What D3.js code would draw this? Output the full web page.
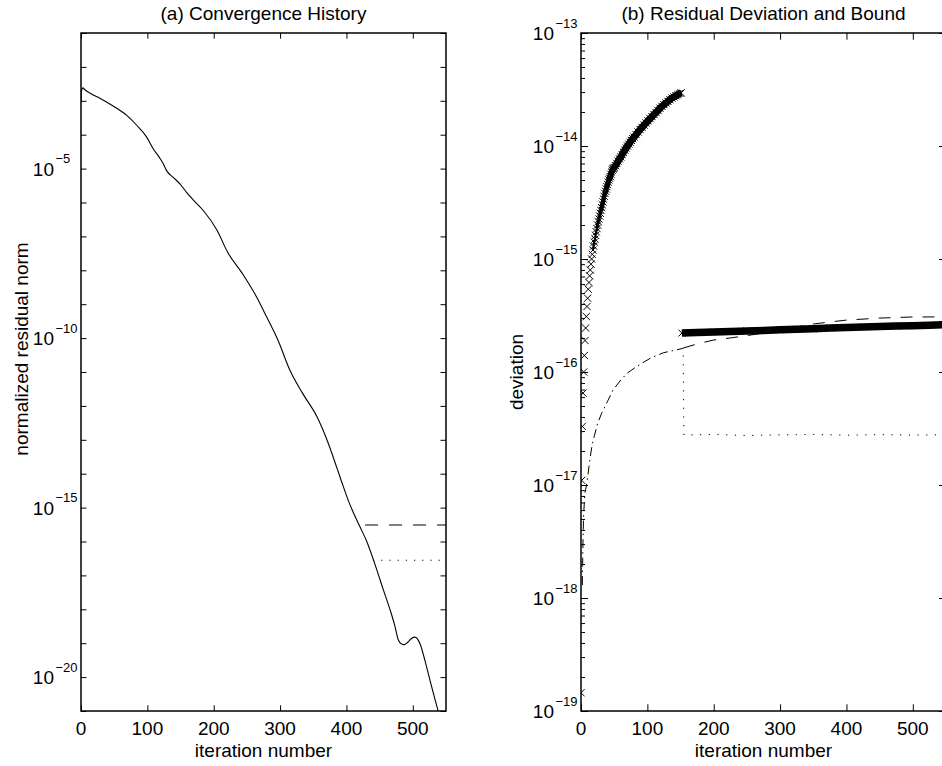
<!DOCTYPE html>
<html>
<head>
<meta charset="utf-8">
<script src="https://cdn.jsdelivr.net/npm/d3@7"></script>
<style>
  body { margin: 0; background: #fff; }
  text { font-family: "Liberation Sans", Arial, Helvetica, sans-serif; fill: #000; }
</style>
</head>
<body>
<svg id="chart" width="942" height="766"></svg>
<script>
// ---- data ----
var xTicks = [0, 100, 200, 300, 400, 500];

// (a) convergence history
var residIter = [0, 1, 3, 5, 15, 29, 49, 69, 84, 99, 109, 118, 124, 129, 139, 149, 159, 169, 184, 205,
  221, 243, 265, 280, 297, 315, 334, 356, 371, 386, 393, 403, 410, 420, 430, 446, 456, 466, 473, 478,
  483, 487, 492, 498, 503, 507, 511, 518, 526, 532, 538, 543];
var residNorm = [8.5e-4, 2.09e-3, 2.4e-3, 2.19e-3, 1.62e-3, 1.17e-3, 6.9e-4, 3.7e-4, 1.9e-4, 8.5e-5,
  3.8e-5, 2.14e-5, 1.38e-5, 8.7e-6, 5.5e-6, 3.55e-6, 2.0e-6, 1.2e-6, 5.9e-7, 1.51e-7,
  3.4e-8, 8.1e-9, 1.58e-9, 4.1e-10, 8.5e-11, 1.1e-11, 2.34e-12, 4.6e-13, 9.5e-14, 1.41e-14,
  5.6e-15, 1.58e-15, 7.4e-16, 2.8e-16, 1.07e-16, 1.41e-17, 3.55e-18, 9.3e-19, 3.2e-19, 1.26e-19,
  9.5e-20, 9.1e-20, 1.05e-19, 1.38e-19, 1.51e-19, 1.35e-19, 9.5e-20, 3.2e-20, 7.9e-21, 2.8e-21,
  1.02e-21, 4.5e-22];
var boundIter = [428, 550];
var boundVal = [3.07e-16, 3.07e-16];
var floorIter = [440, 550];
var floorVal = [2.8e-17, 2.8e-17];
var leftYTickVals = [1e-5, 1e-10, 1e-15, 1e-20];
var leftYTickExp = ["\u22125", "\u221210", "\u221215", "\u221220"];

// (b) residual deviation and bound
var devIterA = [0, 1, 2, 3, 4, 5, 6, 7, 8, 9, 10, 11, 12, 13, 14, 15, 16, 17, 18, 19, 20,
  21, 22, 23, 24, 25, 26, 27, 28, 29, 30, 31, 32, 33, 34, 35, 36, 37, 38, 39, 40,
  41, 42, 43, 44, 45, 46, 47, 48, 49, 50,
  52, 54, 56, 58, 60, 62, 64, 66, 68, 70, 72, 74, 76, 78, 80,
  83, 86, 89, 92, 95, 98, 101, 104, 107, 110, 113, 116, 119, 122, 125, 128, 131, 134, 137, 140,
  143, 146, 149, 151];
var devValA = [1.45e-19, 1.1e-17, 3.3e-17, 6.5e-17, 1.0e-16, 1.4e-16, 1.9e-16, 2.45e-16, 3.1e-16, 3.8e-16, 4.5e-16,
  5.4e-16, 6.2e-16, 7.1e-16, 8.0e-16, 9.0e-16, 1.0e-15, 1.1e-15, 1.2e-15, 1.3e-15, 1.41e-15,
  1.5e-15, 1.62e-15, 1.74e-15, 1.86e-15, 2.0e-15, 2.14e-15, 2.26e-15, 2.40e-15, 2.54e-15, 2.69e-15,
  2.85e-15, 3.02e-15, 3.2e-15, 3.39e-15, 3.59e-15, 3.80e-15, 3.98e-15, 4.17e-15, 4.37e-15, 4.57e-15,
  4.79e-15, 5.01e-15, 5.19e-15, 5.37e-15, 5.62e-15, 5.89e-15, 6.1e-15, 6.25e-15, 6.35e-15, 6.46e-15,
  6.7e-15, 7.0e-15, 7.35e-15, 7.7e-15, 8.0e-15, 8.4e-15, 8.8e-15, 9.2e-15, 9.6e-15, 1.0e-14,
  1.04e-14, 1.08e-14, 1.12e-14, 1.16e-14, 1.2e-14,
  1.26e-14, 1.33e-14, 1.40e-14, 1.46e-14, 1.53e-14, 1.60e-14, 1.67e-14, 1.75e-14, 1.82e-14, 1.90e-14,
  1.98e-14, 2.06e-14, 2.16e-14, 2.24e-14, 2.32e-14, 2.40e-14, 2.48e-14, 2.57e-14, 2.66e-14, 2.72e-14,
  2.79e-14, 2.85e-14, 2.92e-14, 2.95e-14];
var devIterB = [152, 175, 200, 225, 250, 275, 300, 325, 350, 375, 400, 425, 450, 475, 500, 525, 550];
var devValB = [2.21e-16, 2.235e-16, 2.26e-16, 2.285e-16, 2.31e-16, 2.335e-16, 2.36e-16, 2.39e-16, 2.42e-16,
  2.45e-16, 2.48e-16, 2.505e-16, 2.53e-16, 2.55e-16, 2.57e-16, 2.595e-16, 2.62e-16];
var estIter = [2, 3, 4, 6, 9, 12, 14, 17, 20, 25, 31, 40, 48, 60, 70, 84, 104, 124, 154];
var estVal = [1.3e-18, 3.2e-18, 5.6e-18, 8.5e-18, 1.05e-17, 1.45e-17, 1.78e-17, 2.3e-17, 2.7e-17, 3.5e-17,
  4.3e-17, 5.5e-17, 6.9e-17, 8.5e-17, 9.8e-17, 1.12e-16, 1.32e-16, 1.48e-16, 1.62e-16];
var bndIter = [154, 175, 200, 225, 250, 275, 300, 325, 350, 375, 400, 450, 500, 550];
var bndVal = [1.63e-16, 1.77e-16, 1.92e-16, 2.0e-16, 2.1e-16, 2.21e-16, 2.33e-16, 2.5e-16, 2.66e-16,
  2.77e-16, 2.88e-16, 3.0e-16, 3.07e-16, 3.07e-16];
var lowIter = [154, 155, 200, 250, 300, 350, 400, 450, 500, 550];
var lowVal = [1.4e-16, 2.77e-17, 2.8e-17, 2.74e-17, 2.78e-17, 2.8e-17, 2.76e-17, 2.79e-17, 2.77e-17, 2.78e-17];
var rightYTickVals = [1e-13, 1e-14, 1e-15, 1e-16, 1e-17, 1e-18, 1e-19];
var rightYTickExp = ["\u221213", "\u221214", "\u221215", "\u221216", "\u221217", "\u221218", "\u221219"];

// ---- layout ----
var svg = d3.select("#chart");
var plotW = 365, plotH = 678, plotTop = 33;

function zip(a, b) { return a.map(function (v, i) { return [v, b[i]]; }); }

function makePanel(left, yDomain, id) {
  var g = svg.append("g").attr("transform", "translate(" + left + "," + plotTop + ")");
  var x = d3.scaleLinear().domain([0, 550]).range([0, plotW]);
  var y = d3.scaleLog().domain(yDomain).range([plotH, 0]);
  g.append("clipPath").attr("id", id)
    .append("rect").attr("width", plotW).attr("height", plotH);
  var plot = g.append("g").attr("clip-path", "url(#" + id + ")");
  return { g: g, x: x, y: y, plot: plot };
}

// inward ticks on all four sides, labels drawn separately
function addTicks(p, yVals, yLen, xLen) {
  var list = [
    [d3.axisBottom(p.x).tickValues(xTicks).tickSize(-xLen), 0, plotH],
    [d3.axisTop(p.x).tickValues(xTicks).tickSize(-xLen), 0, 0],
    [d3.axisLeft(p.y).tickValues(yVals).tickSize(-yLen), 0, 0],
    [d3.axisRight(p.y).tickValues(yVals).tickSize(-yLen), plotW, 0]
  ];
  list.forEach(function (a) {
    var ax = p.g.append("g")
      .attr("transform", "translate(" + a[1] + "," + a[2] + ")")
      .call(a[0].tickFormat("").tickSizeOuter(0));
    ax.select(".domain").remove();
    ax.selectAll("line").attr("stroke", "#000").attr("stroke-width", 1);
  });
}

function addLabels(p, title, ylab, ylabX, ylabY, yVals, yExp) {
  p.g.append("text").attr("x", plotW / 2).attr("y", 20 - plotTop)
    .attr("text-anchor", "middle").attr("font-size", "19px").text(title);
  p.g.selectAll(".xl").data(xTicks).enter().append("text")
    .attr("x", function (d) { return p.x(d); }).attr("y", plotH + 24)
    .attr("text-anchor", "middle").attr("font-size", "19px").text(function (d) { return d; });
  p.g.append("text").attr("x", plotW / 2).attr("y", plotH + 46)
    .attr("text-anchor", "middle").attr("font-size", "19px").text("iteration number");
  p.g.append("text").attr("transform", "translate(" + ylabX + "," + ylabY + ") rotate(-90)")
    .attr("text-anchor", "middle").attr("font-size", "19px").text(ylab);
  yVals.forEach(function (v, i) {
    p.g.append("text").attr("x", -27).attr("y", p.y(v) + 7)
      .attr("text-anchor", "end").attr("font-size", "19px").text("10");
    p.g.append("text").attr("x", -25.5).attr("y", p.y(v) - 5.5)
      .attr("text-anchor", "start").attr("font-size", "13px").text(yExp[i]);
  });
}

function frame(p) {
  p.g.append("rect").attr("width", plotW).attr("height", plotH)
    .attr("fill", "none").attr("stroke", "#000").attr("stroke-width", 1.5);
}

function drawLine(p, pts, dash, width, curve) {
  var line = d3.line()
    .x(function (d) { return p.x(d[0]); })
    .y(function (d) { return p.y(d[1]); })
    .curve(curve || d3.curveLinear);
  p.plot.append("path").datum(pts).attr("d", line)
    .attr("fill", "none").attr("stroke", "#000")
    .attr("stroke-width", width || 1)
    .attr("stroke-dasharray", dash || null);
}

function drawCrosses(p, pts, s) {
  p.plot.selectAll(null).data(pts).enter().append("path")
    .attr("transform", function (d) { return "translate(" + p.x(d[0]) + "," + p.y(d[1]) + ")"; })
    .attr("d", "M" + (-s) + "," + (-s) + "L" + s + "," + s + "M" + (-s) + "," + s + "L" + s + "," + (-s))
    .attr("fill", "none").attr("stroke", "#000").attr("stroke-width", 1);
}

// ---- panel (a) ----
var pa = makePanel(81, [1e-21, 1e-1], "clipA");
var decadesA = d3.range(-21, 0).map(function (e) { return Math.pow(10, e); });
addTicks(pa, decadesA, 5.5, 5.7);
drawLine(pa, zip(residIter, residNorm), null, 1.1, d3.curveMonotoneX);
drawLine(pa, zip(boundIter, boundVal), "13,11");
drawLine(pa, zip(floorIter, floorVal), "1.2,7");
addLabels(pa, "(a) Convergence History", "normalized residual norm", 28 - 81, 349 - plotTop,
  leftYTickVals, leftYTickExp);
frame(pa);

// ---- panel (b) ----
var pb = makePanel(581, [1e-19, 1e-13], "clipB");
addTicks(pb, rightYTickVals, 7, 6.7);
var minorB = [];
d3.range(-19, -13).forEach(function (e) {
  d3.range(2, 10).forEach(function (m) { minorB.push(m * Math.pow(10, e)); });
});
[[d3.axisLeft(pb.y), 0], [d3.axisRight(pb.y), plotW]].forEach(function (a) {
  var ax = pb.g.append("g").attr("transform", "translate(" + a[1] + ",0)")
    .call(a[0].tickValues(minorB).tickSize(-4).tickFormat("").tickSizeOuter(0));
  ax.select(".domain").remove();
  ax.selectAll("line").attr("stroke", "#000").attr("stroke-width", 1);
});
drawLine(pb, zip(estIter, estVal), "9,4,1.5,4");
drawLine(pb, zip(bndIter, bndVal), "12,10");
drawLine(pb, zip(lowIter, lowVal), "1.2,7.5");
var bandA = zip(devIterA, devValA);
// where the crosses pile up they merge into a solid band, thickening upwards
[[18, 2], [24, 3], [30, 4], [36, 5], [42, 6], [50, 7]].forEach(function (c) {
  drawLine(pb, bandA.filter(function (d) { return d[0] >= c[0]; }), null, c[1], d3.curveMonotoneX);
});
drawCrosses(pb, bandA, 3.6);
drawLine(pb, zip(devIterB, devValB), null, 7.5);
drawCrosses(pb, zip(devIterB, devValB), 3.4);
addLabels(pb, "(b) Residual Deviation and Bound", "deviation", 523 - 581, 372 - plotTop,
  rightYTickVals, rightYTickExp);
frame(pb);
</script>
</body>
</html>
